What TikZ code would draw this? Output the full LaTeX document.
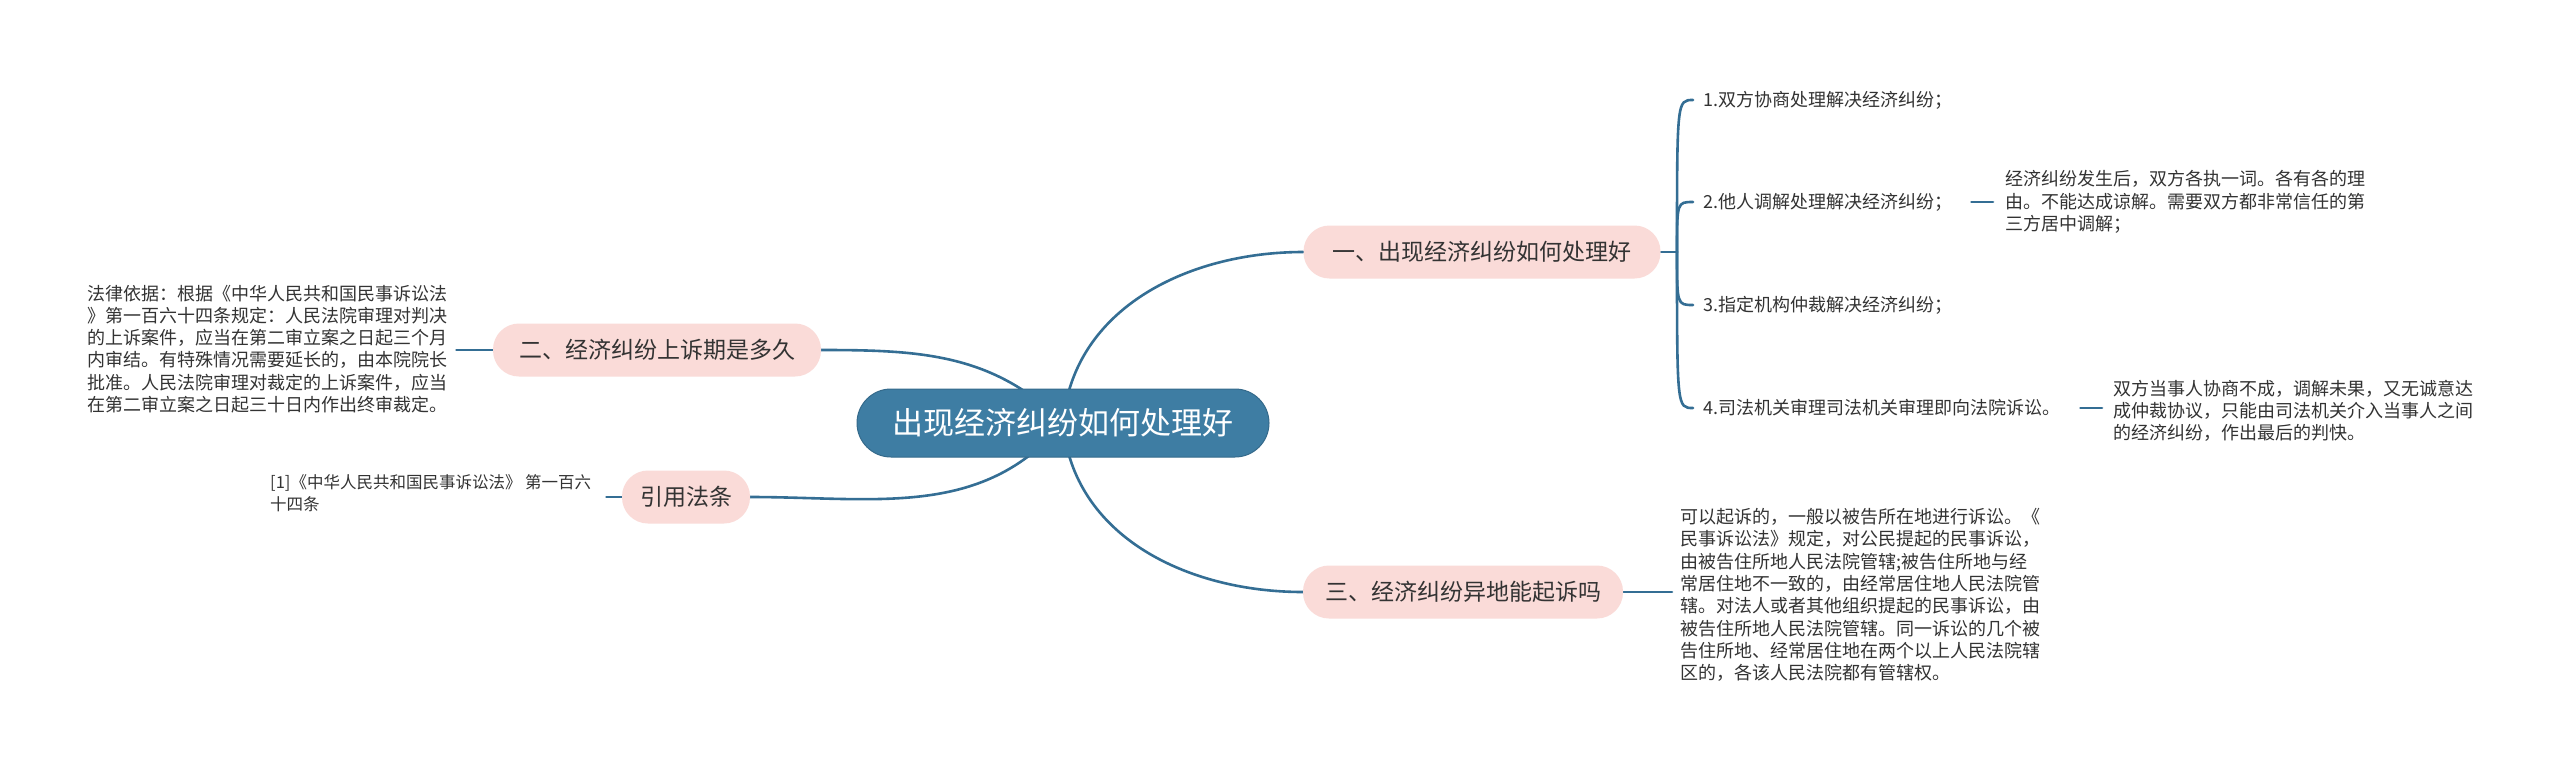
\documentclass[tikz,border=0pt]{standalone}
\usepackage{fontspec}
\setmainfont{Noto Sans CJK SC}
\usetikzlibrary{backgrounds}
\definecolor{hubblue}{RGB}{62,125,163}
\definecolor{linkblue}{RGB}{52,110,148}
\definecolor{topicpink}{RGB}{250,219,216}
\definecolor{inkgray}{RGB}{51,51,51}

\begin{document}
\begin{tikzpicture}[x=1pt,y=-1pt,
    hub/.style={fill=hubblue,draw=hubblue!85!black,line width=1pt,text=white,
      rounded corners=34pt,minimum height=68pt,minimum width=412pt,inner sep=0pt,
      font=\fontsize{31}{36}\selectfont},
    topic/.style={fill=topicpink,rounded corners=26pt,minimum height=53pt,inner sep=0pt,
      text=inkgray,font=\fontsize{23}{28}\selectfont},
    leaf/.style={anchor=west,align=left,inner sep=0pt,text=inkgray,
      font=\fontsize{18}{22.3}\selectfont},
    link/.style={draw=linkblue,line width=2.6pt,line cap=round}]
  \useasboundingbox (0,0) rectangle (2560,772);

  % centre and main topics
  \node[hub] (root) at (1063,423) {出现经济纠纷如何处理好};
  \node[topic,minimum width=357pt] (b1) at (1482,252) {一、出现经济纠纷如何处理好};
  \node[topic,minimum width=328pt] (b2) at (657,350) {二、经济纠纷上诉期是多久};
  \node[topic,minimum width=128pt] (cite) at (686,497) {引用法条};
  \node[topic,minimum width=320pt] (b3) at (1463,592) {三、经济纠纷异地能起诉吗};

  % left side
  \node[leaf] (law) at (87,349) {法律依据：根据《中华人民共和国民事诉讼法\\》第一百六十四条规定：人民法院审理对判决\\的上诉案件，应当在第二审立案之日起三个月\\内审结。有特殊情况需要延长的，由本院院长\\批准。人民法院审理对裁定的上诉案件，应当\\在第二审立案之日起三十日内作出终审裁定。};
  \node[leaf,font=\fontsize{16.5}{22.3}\selectfont] (citetext) at (270,493) {[1]《中华人民共和国民事诉讼法》 第一百六\\十四条};

  % right side
  \node[leaf] (c1) at (1703,100) {1.双方协商处理解决经济纠纷；};
  \node[leaf] (c2) at (1703,202) {2.他人调解处理解决经济纠纷；};
  \node[leaf] (c3) at (1703,305) {3.指定机构仲裁解决经济纠纷；};
  \node[leaf] (c4) at (1703,408) {4.司法机关审理司法机关审理即向法院诉讼。};
  \node[leaf] (d2) at (2005,202) {经济纠纷发生后，双方各执一词。各有各的理\\由。不能达成谅解。需要双方都非常信任的第\\三方居中调解；};
  \node[leaf] (d4) at (2113,411) {双方当事人协商不成，调解未果，又无诚意达\\成仲裁协议，只能由司法机关介入当事人之间\\的经济纠纷，作出最后的判快。};
  \node[leaf] (e3) at (1680,595) {可以起诉的，一般以被告所在地进行诉讼。《\\民事诉讼法》规定，对公民提起的民事诉讼，\\由被告住所地人民法院管辖;被告住所地与经\\常居住地不一致的，由经常居住地人民法院管\\辖。对法人或者其他组织提起的民事诉讼，由\\被告住所地人民法院管辖。同一诉讼的几个被\\告住所地、经常居住地在两个以上人民法院辖\\区的，各该人民法院都有管辖权。};

  \coordinate (fork1) at (1677,252);

  \begin{scope}[on background layer]
    \fill[white] (0,0) rectangle (2560,772);
    % curves from the centre
    \draw[link] (root.center) to[out=85,in=180] (b1.west);
    \draw[link] (root.center) to[out=-85,in=180] (b3.west);
    \draw[link] (root.center) to[out=135,in=0] (b2.east);
    \draw[link] (root.center) to[out=-130,in=0] (cite.east);
    % branch one fork
    \draw[link] (b1.east) -- (fork1);
    \foreach \c in {c1,c2,c3,c4}
      \draw[link] (fork1) .. controls (fork1 |- \c.west) .. ([xshift=-10pt]\c.west);
    % leaf connectors
    \draw[link] ([xshift=9pt]law.east |- b2.west) -- (b2.west);
    \draw[link] ([xshift=15pt]citetext.east |- cite.west) -- (cite.west);
    \draw[link] ([xshift=19pt]c2.east) -- ([xshift=-12pt]d2.west |- c2.east);
    \draw[link] ([xshift=20pt]c4.east) -- ([xshift=-11pt]d4.west |- c4.east);
    \draw[link] (b3.east) -- ([xshift=-8pt]e3.west |- b3.east);
  \end{scope}
\end{tikzpicture}
\end{document}
